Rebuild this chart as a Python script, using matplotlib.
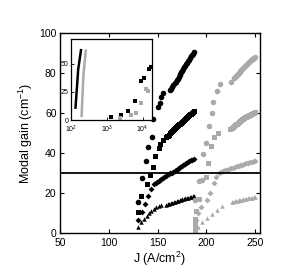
import matplotlib
matplotlib.use("Agg")
import matplotlib.pyplot as plt

plt.rcParams['font.family'] = ['Liberation Sans', 'DejaVu Sans']
plt.rcParams['mathtext.fontset'] = 'custom'
plt.rcParams['mathtext.rm'] = 'Liberation Sans'
plt.rcParams['mathtext.it'] = 'Liberation Sans'

BLACK = '#000000'
GRAY = '#aaaaaa'

# black series (lower J)
bc_j = [130, 134, 138, 140, 144, 145.5, 150, 152, 154, 156,
        163, 164, 165, 166, 167.5, 168.5, 169.5, 170.5, 171.5, 172.5, 173.5, 174.5, 175.5,
        176.5, 177.5, 178.5, 179.5, 180.5, 181.5, 182.5, 183.5, 184.5, 185.5, 186.3, 187]
bc_g = [15.5, 27.5, 36, 43, 48, 57, 63, 65, 68, 70,
        71.5, 72.2, 73.1, 73.8, 75, 75.6, 76.5, 77.2, 78.1, 78.8, 79.7, 80.3, 81.2,
        82, 82.8, 83.5, 84.4, 85.1, 86, 86.6, 87.5, 88.3, 89, 89.7, 90.4]
bs_j = [130, 133, 139, 142, 145, 147, 151, 153, 156,
        158.5, 159.5, 160.5, 161.5, 162.5, 164, 165, 166, 167, 168, 169, 170, 171, 172,
        173, 174, 175, 176, 177, 178, 179, 180, 181, 182, 183, 184, 185, 186, 187]
bs_g = [10.5, 18.5, 24.5, 29, 33, 38.5, 42.5, 44.5, 46.5,
        47.8, 48.3, 48.7, 49.2, 49.8, 50.4, 50.9, 51.4, 51.8, 52.3, 52.9, 53.3, 53.9, 54.3,
        54.7, 55.2, 55.6, 56.1, 56.5, 57, 57.5, 57.9, 58.4, 58.8, 59.3, 59.7, 60.1, 60.6, 61]
bd_j = [130, 134, 137, 140, 143, 146,
        148, 149.5, 151, 152.5, 154, 155.5, 157, 158.5, 160, 161.5, 163, 164.5, 166, 167.5,
        169, 170.5, 172, 173.5, 175, 176.5, 178, 179.5, 181, 182.5, 184, 185.5, 187]
bd_g = [6.5, 10.5, 14.5, 18.5, 22, 24.5,
        25.2, 25.7, 26.2, 26.6, 27.1, 27.5, 28, 28.5, 28.9, 29.3, 29.8, 30.2, 30.7, 31.2,
        31.7, 32.1, 32.6, 33.1, 33.5, 34, 34.5, 34.9, 35.4, 35.8, 36.3, 36.7, 37.1]
bt_j = [130, 133, 136, 139, 141, 143, 146, 148, 151, 154,
        159, 160.5, 162, 163.5, 165, 166.5, 168, 169.5, 171, 172.5, 174, 175.5, 177,
        178.5, 180, 181.5, 183, 184.5, 186, 187]
bt_g = [3, 5.5, 7, 8.5, 10, 11, 12, 12.8, 13.3, 13.8,
        14.2, 14.4, 14.7, 14.9, 15.2, 15.4, 15.7, 15.9, 16.2, 16.4, 16.7, 16.9, 17.1,
        17.3, 17.5, 17.7, 17.9, 18.1, 18.3, 18.4]

# gray series (higher J)
gc_j = [188, 192, 196, 197, 200, 203, 206, 207, 211, 214.5, 225,
        228, 229, 230, 231, 232, 233, 234, 235, 236, 237, 238, 239, 240, 241, 242, 243,
        244, 245, 246, 247, 248, 249, 250]
gc_g = [16.5, 26, 26.5, 39.5, 45, 53.5, 60, 65.5, 71, 74.3, 75.7,
        77.3, 77.8, 78.4, 78.8, 79.4, 79.9, 80.4, 80.9, 81.4, 81.9, 82.4, 82.9, 83.4, 83.9, 84.4, 84.9,
        85.4, 85.8, 86.3, 86.8, 87.2, 87.6, 88]
gs_j = [188, 188, 188, 188.5, 188, 189, 192, 200, 202, 205, 208, 212, 224,
        226, 227, 228, 229, 230, 231, 232, 233, 234, 235, 236, 237, 238, 239, 240, 241,
        242, 243, 244, 245, 246, 247, 248, 249, 250]
gs_g = [1, 2.5, 4, 5.5, 7, 11, 17, 28, 35, 43.5, 48, 50, 52,
        52.6, 53.1, 53.5, 53.9, 54.3, 54.7, 55, 55.4, 55.8, 56.1, 56.5, 56.8, 57.2, 57.5, 57.8, 58.1,
        58.4, 58.7, 59, 59.2, 59.5, 59.7, 59.9, 60.1, 60.3]
gd_j = [189, 191, 195, 201, 204, 207.5, 210,
        213, 215, 217, 219, 221, 223, 225, 227, 229, 231, 233, 235, 237, 239, 241, 243,
        245, 247, 248.5, 250]
gd_g = [6.5, 10, 13, 16.5, 20, 25, 28,
        30, 30.5, 31, 31.3, 31.7, 32, 32.3, 32.7, 33, 33.3, 33.6, 33.9, 34.2, 34.5, 34.8, 35.1,
        35.3, 35.6, 35.8, 36]
gt_j = [191, 196, 201, 206, 211, 216,
        226, 227.5, 229, 230.5, 232, 233.5, 235, 236.5, 238, 239.5, 241, 242.5, 244, 245.5,
        247, 248.5, 250]
gt_g = [3, 5.5, 7.5, 9.5, 11.5, 13.5,
        15.5, 15.7, 15.8, 16, 16.2, 16.4, 16.5, 16.7, 16.8, 17, 17.1, 17.3, 17.4, 17.6,
        17.7, 17.9, 18]

threshold = 30

# inset data
in_bl_j = [133, 158, 189]
in_bl_g = [11, 45, 62]
in_gl_j = [197, 220, 258]
in_gl_g = [3.6, 39, 61.6]
in_bs_j = [1276, 2560, 3800, 6300, 9200, 10700, 15000, 17000]
in_bs_g = [2.7, 4.2, 8, 16.7, 34.8, 36.9, 45.3, 47.3]
in_gs_j = [2350, 4900, 6500, 9200, 12300, 14000]
in_gs_g = [2, 4.2, 6, 15.5, 27.4, 26]

fig = plt.figure(figsize=(3.0, 2.74), dpi=100)
ax = fig.add_axes([0.2, 0.1496, 0.6667, 0.73])

series = [
    (bc_j, bc_g, 'o', 4.0, BLACK), (bs_j, bs_g, 's', 3.6, BLACK),
    (bd_j, bd_g, 'D', 3.0, BLACK), (bt_j, bt_g, '^', 3.2, BLACK),
    (gc_j, gc_g, 'o', 4.0, GRAY), (gs_j, gs_g, 's', 3.6, GRAY),
    (gd_j, gd_g, 'D', 3.0, GRAY), (gt_j, gt_g, '^', 3.2, GRAY),
]
for xs, ys, m, ms, c in series:
    ax.plot(xs, ys, linestyle='none', marker=m, markersize=ms, color=c, markeredgewidth=0)

ax.axhline(threshold, color='black', lw=1.3)

ax.set_xlim(50, 255)
ax.set_ylim(0, 100)
ax.set_xticks([50, 100, 150, 200, 250])
ax.set_yticks([0, 20, 40, 60, 80, 100])
ax.tick_params(direction='in', top=True, right=True, labelsize=7.5, length=3, width=0.8, pad=2)
ax.tick_params(axis='x', pad=3.5)
ax.tick_params(axis='y', pad=2.5)
for sp in ax.spines.values():
    sp.set_linewidth(1.0)
ax.set_xlabel(r'J (A/cm$^2$)', fontsize=9, labelpad=1.5)
ax.set_ylabel(r'Modal gain (cm$^{-1}$)', fontsize=9, labelpad=3)

ins = fig.add_axes([0.237, 0.562, 0.27, 0.296])
ins.plot(in_bl_j, in_bl_g, color=BLACK, lw=1.8)
ins.plot(in_gl_j, in_gl_g, color=GRAY, lw=1.8)
ins.plot(in_bs_j, in_bs_g, linestyle='none', marker='s', markersize=2.3, color=BLACK, markeredgewidth=0)
ins.plot(in_gs_j, in_gs_g, linestyle='none', marker='s', markersize=2.3, color=GRAY, markeredgewidth=0)
ins.set_xscale('log')
ins.set_xlim(100, 18500)
ins.set_ylim(0, 72)
ins.set_xticks([100, 1000, 10000])
ins.set_xticklabels([r'$10^2$', r'$10^3$', r'$10^4$'])
ins.minorticks_off()
ins.set_yticks([0, 25, 50])
ins.tick_params(direction='in', labelsize=5, length=2, width=0.6)
ins.tick_params(axis='x', pad=3.0)
ins.tick_params(axis='y', pad=1.8)
for sp in ins.spines.values():
    sp.set_linewidth(0.9)

fig.savefig('out.png', dpi=100)
